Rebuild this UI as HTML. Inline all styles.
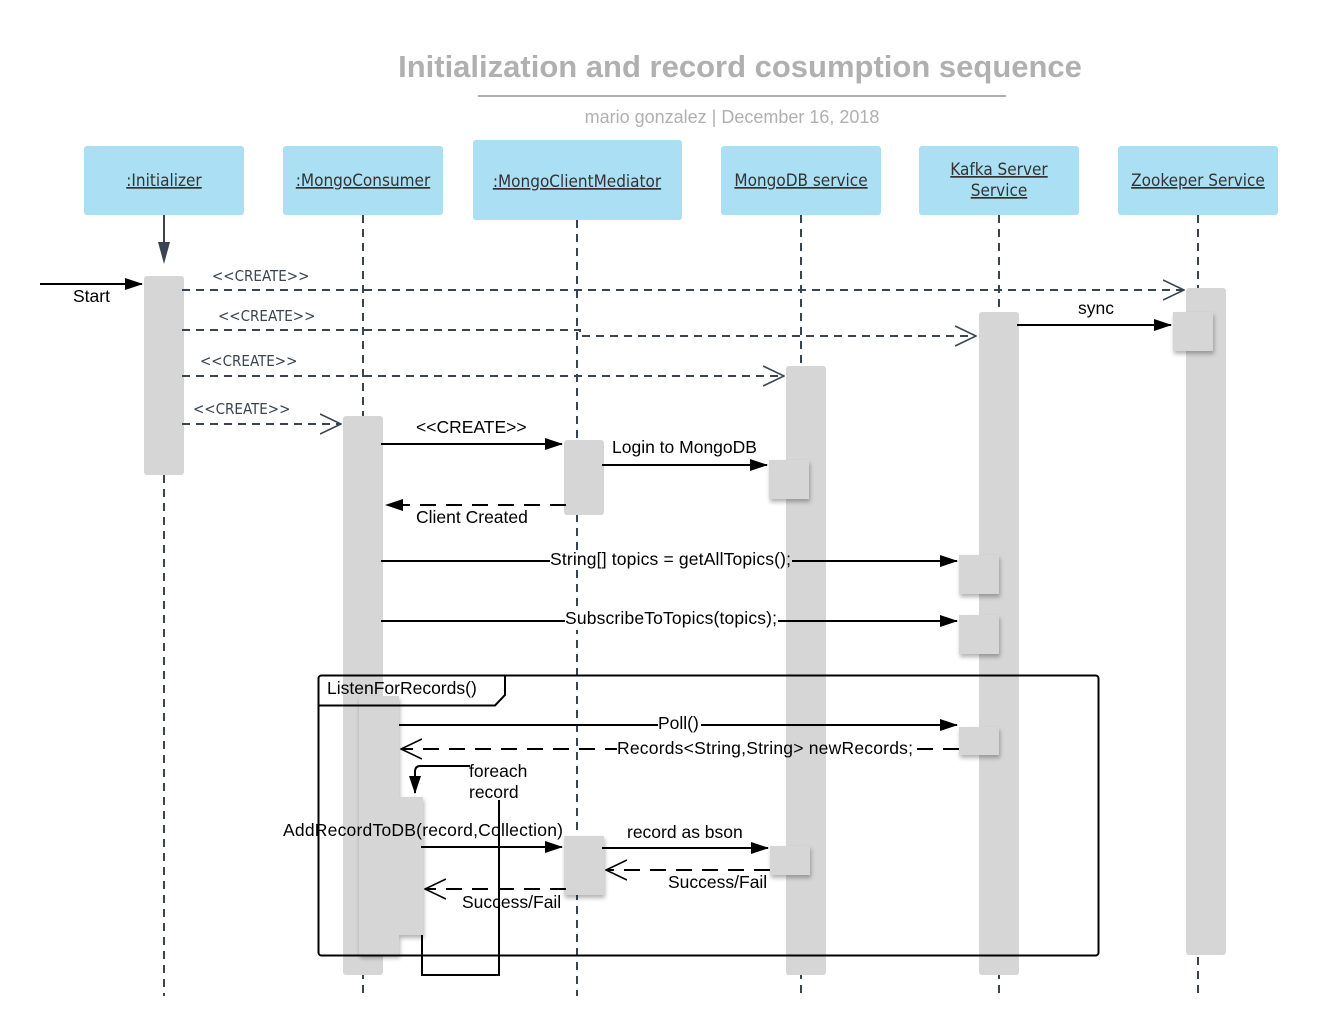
<!DOCTYPE html>
<html><head><meta charset="utf-8"><style>
html,body{margin:0;padding:0;background:#fff;}
svg{display:block;}
text{font-family:"Liberation Sans",sans-serif;}
.hd{font-family:"DejaVu Sans Condensed","Liberation Sans Narrow","Liberation Sans",sans-serif;font-size:17px;fill:#333;text-decoration:underline;}
.cr{font-family:"DejaVu Sans Condensed","Liberation Sans Narrow","Liberation Sans",sans-serif;font-size:15px;fill:#3a4450;}
.m{font-size:17.5px;fill:#000;}
</style></head><body>
<svg width="1318" height="1036" viewBox="0 0 1318 1036" xmlns="http://www.w3.org/2000/svg">
<defs>
<marker id="f" markerWidth="18" markerHeight="12" refX="17" refY="6" orient="auto" markerUnits="userSpaceOnUse"><path d="M0,0 L18,6 L0,12 z" fill="#000"/></marker>
<marker id="o" markerWidth="22" markerHeight="22" refX="21" refY="11" orient="auto" markerUnits="userSpaceOnUse"><path d="M0,1 L21,11 L0,21" fill="none" stroke="#3a4450" stroke-width="1.6"/></marker>
<marker id="ob" markerWidth="22" markerHeight="22" refX="21" refY="11" orient="auto" markerUnits="userSpaceOnUse"><path d="M0,1 L21,11 L0,21" fill="none" stroke="#000" stroke-width="1.6"/></marker>
<filter id="sh" x="-30%" y="-30%" width="160%" height="160%"><feDropShadow dx="1" dy="3" stdDeviation="2" flood-opacity="0.3"/></filter>
</defs>

<text x="740" y="77" text-anchor="middle" font-size="31" font-weight="bold" fill="#b0b0b0">Initialization and record cosumption sequence</text>
<line x1="478" y1="96" x2="1006" y2="96" stroke="#b0b0b0" stroke-width="2"/>
<text x="732" y="123" text-anchor="middle" font-size="18" fill="#b0b0b0">mario gonzalez  |  December 16, 2018</text>

<!-- lifelines -->
<g stroke="#3a4450" stroke-width="2" stroke-dasharray="8,6">
<line x1="164" y1="475" x2="164" y2="996"/>
<line x1="363" y1="215" x2="363" y2="996"/>
<line x1="577" y1="220" x2="577" y2="996"/>
<line x1="801" y1="215" x2="801" y2="996"/>
<line x1="999" y1="215" x2="999" y2="996"/>
<line x1="1198" y1="215" x2="1198" y2="996"/>
</g>
<line x1="164" y1="215" x2="164" y2="245" stroke="#3a4450" stroke-width="2"/>
<polygon points="158,242 170,242 164,264" fill="#3a4450"/>

<!-- headers -->
<g fill="#abdff3">
<rect x="84" y="146" width="160" height="69" rx="3"/>
<rect x="283" y="146" width="160" height="69" rx="3"/>
<rect x="473" y="140" width="209" height="80" rx="3"/>
<rect x="721" y="146" width="160" height="69" rx="3"/>
<rect x="919" y="146" width="160" height="69" rx="3"/>
<rect x="1118" y="146" width="160" height="69" rx="3"/>
</g>
<text class="hd" x="164" y="186" text-anchor="middle">:Initializer</text>
<text class="hd" x="363" y="186" text-anchor="middle">:MongoConsumer</text>
<text class="hd" x="577" y="187" text-anchor="middle">:MongoClientMediator</text>
<text class="hd" x="801" y="186" text-anchor="middle">MongoDB service</text>
<text class="hd" x="999" y="175" text-anchor="middle">Kafka Server</text>
<text class="hd" x="999" y="196" text-anchor="middle">Service</text>
<text class="hd" x="1198" y="186" text-anchor="middle">Zookeper Service</text>

<!-- activations -->
<g fill="#d6d6d6">
<rect x="144" y="276" width="40" height="199" rx="3"/>
<rect x="343" y="416" width="40" height="559" rx="3"/>
<rect x="564" y="440" width="40" height="75" rx="3"/>
<rect x="786" y="366" width="40" height="609" rx="3"/>
<rect x="979" y="312" width="40" height="663" rx="3"/>
<rect x="1186" y="288" width="40" height="667" rx="3"/>
</g>
<g fill="#d6d6d6" filter="url(#sh)">
<rect x="1173" y="312" width="40" height="39"/>
<rect x="769" y="460" width="40" height="39"/>
<rect x="959" y="555" width="40" height="39"/>
<rect x="959" y="615" width="40" height="39"/>
<rect x="959" y="727" width="40" height="28"/>
<rect x="359" y="696" width="40" height="259"/>
<rect x="383" y="797" width="40" height="138"/>
<rect x="564" y="836" width="40" height="59"/>
<rect x="770" y="846" width="40" height="29"/>
</g>

<!-- create messages -->
<g stroke="#3a4450" stroke-width="2" stroke-dasharray="8,6" fill="none">
<path d="M182,290 H1184" marker-end="url(#o)"/>
<path d="M182,330 H580 V336 H976" marker-end="url(#o)"/>
<path d="M182,376 H784" marker-end="url(#o)"/>
<path d="M182,424 H341" marker-end="url(#o)"/>
</g>
<text class="cr" x="212" y="281">&lt;&lt;CREATE&gt;&gt;</text>
<text class="cr" x="218" y="321">&lt;&lt;CREATE&gt;&gt;</text>
<text class="cr" x="200" y="366">&lt;&lt;CREATE&gt;&gt;</text>
<text class="cr" x="193" y="414">&lt;&lt;CREATE&gt;&gt;</text>

<!-- solid messages -->
<g stroke="#000" stroke-width="2" fill="none">
<path d="M40,284 H142" marker-end="url(#f)"/>
<path d="M1017,325 H1171" marker-end="url(#f)"/>
<path d="M381,444 H562" marker-end="url(#f)"/>
<path d="M602,465 H767" marker-end="url(#f)"/>
<path d="M381,561 H957" marker-end="url(#f)"/>
<path d="M381,621 H957" marker-end="url(#f)"/>
<path d="M399,725 H957" marker-end="url(#f)"/>
<path d="M421,847 H562" marker-end="url(#f)"/>
<path d="M602,848 H768" marker-end="url(#f)"/>
<path d="M499,800 V975 H422 V935"/>
<path d="M470,766 H420 Q415,766 415,772 V793" marker-end="url(#f)"/>
</g>
<g stroke="#000" stroke-width="2" stroke-dasharray="16,10" fill="none">
<path d="M566,505 H386" marker-end="url(#f)"/>
<path d="M959,749 H401" marker-end="url(#ob)"/>
<path d="M770,870 H606" marker-end="url(#ob)"/>
<path d="M566,889 H425" marker-end="url(#ob)"/>
</g>

<!-- backgrounds for inline labels -->
<g fill="#fff">
<rect x="550" y="550" width="236" height="20"/>
<rect x="565" y="610" width="213" height="20"/>
<rect x="658" y="714" width="43" height="20"/>
<rect x="617" y="739" width="169" height="20"/>
<rect x="826" y="739" width="89" height="20"/>
</g>
<g fill="#d6d6d6">
<rect x="786" y="550" width="6" height="20"/>
<rect x="786" y="739" width="40" height="20"/>
</g>

<text class="m" x="73" y="302">Start</text>
<text class="m" x="1078" y="314">sync</text>
<text class="m" x="416" y="433">&lt;&lt;CREATE&gt;&gt;</text>
<text class="m" x="612" y="453">Login to MongoDB</text>
<text class="m" x="416" y="523">Client Created</text>
<text class="m" x="550" y="565" textLength="241">String[] topics = getAllTopics();</text>
<text class="m" x="565" y="624" textLength="212">SubscribeToTopics(topics);</text>
<text class="m" x="658" y="729">Poll()</text>
<text class="m" x="617" y="754" textLength="296">Records&lt;String,String&gt; newRecords;</text>
<text class="m" x="469" y="777">foreach</text>
<text class="m" x="469" y="798">record</text>
<text class="m" x="283" y="836" textLength="280">AddRecordToDB(record,Collection)</text>
<text class="m" x="627" y="838">record as bson</text>
<text class="m" x="668" y="888">Success/Fail</text>
<text class="m" x="462" y="908">Success/Fail</text>

<!-- frame -->
<rect x="318.5" y="675.5" width="780" height="280" rx="3" fill="none" stroke="#000" stroke-width="2"/>
<path d="M318.5,705.5 H495 L505,695 V675.5" fill="none" stroke="#000" stroke-width="2"/>
<text class="m" x="327" y="694">ListenForRecords()</text>
</svg>
</body></html>
